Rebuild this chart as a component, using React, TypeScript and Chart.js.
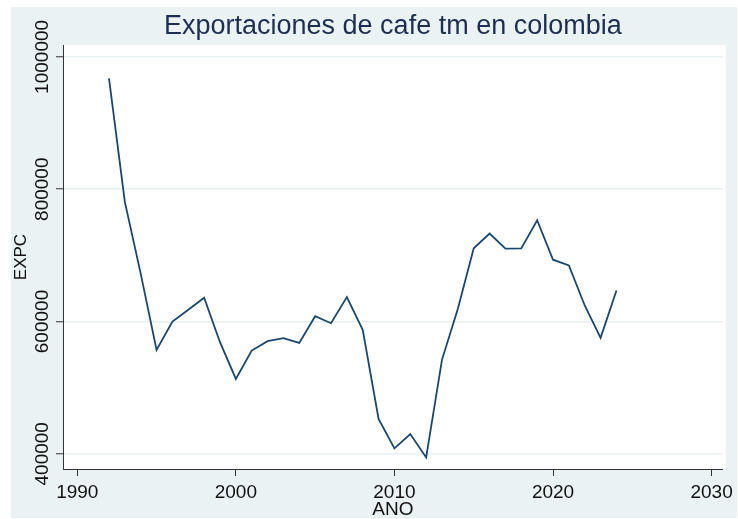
import React, { useEffect, useRef } from "react";
import { Chart, registerables } from "chart.js";

Chart.register(...registerables);

const years = [1992, 1993, 1994, 1995, 1996, 1997, 1998, 1999, 2000, 2001, 2002, 2003, 2004, 2005, 2006, 2007, 2008, 2009, 2010, 2011, 2012, 2013, 2014, 2015, 2016, 2017, 2018, 2019, 2020, 2021, 2022, 2023, 2024];
const expc = [967700, 780800, 672300, 557100, 600000, 617700, 635900, 568700, 513200, 556100, 570200, 574700, 567700, 608000, 597400, 636800, 587400, 452600, 408100, 429800, 394400, 542400, 619200, 710600, 732900, 710100, 710600, 753000, 693400, 684800, 624200, 575300, 646900];
const xTicks = [1990, 2000, 2010, 2020, 2030];
const yTicks = [400000, 600000, 800000, 1000000];

const FONT = "'Liberation Sans', Arial, sans-serif";

export default function App() {
  const ref = useRef<HTMLCanvasElement | null>(null);

  useEffect(() => {
    document.body.style.margin = "0";
    const canvas = ref.current;
    if (!canvas) return;

    const bgPlugin = {
      id: "bgPlugin",
      beforeDraw(chart: any) {
        const { ctx, chartArea } = chart;
        ctx.save();
        ctx.fillStyle = "#ffffff";
        ctx.fillRect(0, 0, chart.width, chart.height);
        ctx.fillStyle = "#eaf2f3";
        ctx.fillRect(11, 7, 726, 511);
        ctx.fillStyle = "#ffffff";
        ctx.fillRect(chartArea.left, chartArea.top, chartArea.right - chartArea.left + 3, chartArea.bottom - chartArea.top);
        ctx.restore();
      },
      afterDraw(chart: any) {
        const { ctx } = chart;
        const ys = chart.scales.y;
        ctx.save();
        ctx.fillStyle = "#111111";
        ctx.font = `19px ${FONT}`;
        ctx.textAlign = "center";
        ctx.textBaseline = "middle";
        ys.ticks.forEach((t: any) => {
          const py = ys.getPixelForValue(t.value);
          ctx.save();
          ctx.translate(43, py);
          ctx.rotate(-Math.PI / 2);
          ctx.fillText(String(t.value), 0, 0);
          ctx.restore();
        });
        ctx.restore();
      },
    };

    const chart = new Chart(canvas, {
      type: "line",
      data: {
        datasets: [
          {
            label: "EXPC",
            data: years.map((yr, i) => ({ x: yr, y: expc[i] })),
            borderColor: "#1a476f",
            borderWidth: 1.8,
            pointRadius: 0,
            tension: 0,
            fill: false,
          },
        ],
      },
      options: {
        animation: false,
        responsive: false,
        maintainAspectRatio: false,
        layout: { padding: { left: 0, right: 8, top: 0, bottom: 0 } },
        plugins: {
          legend: { display: false },
          tooltip: { enabled: false },
          title: {
            display: true,
            fullSize: false,
            text: "Exportaciones de cafe tm en colombia",
            color: "#1e2e50",
            font: { family: FONT, size: 27, weight: "normal" },
            padding: { top: 10, bottom: 2.6 },
          },
        },
        scales: {
          x: {
            type: "linear",
            min: 1989.1,
            max: 2030.7,
            afterBuildTicks: (s: any) => {
              s.ticks = xTicks.map((v) => ({ value: v }));
            },
            afterFit: (s: any) => {
              s.height = 50;
            },
            ticks: {
              color: "#111111",
              font: { family: FONT, size: 19 },
              padding: 5,
              maxRotation: 0,
              callback: (v: any) => String(v),
            },
            grid: {
              drawOnChartArea: false,
              drawTicks: true,
              tickLength: 7,
              tickColor: "#333333",
              tickWidth: 1,
            },
            border: { display: true, color: "#333333", width: 1 },
            title: {
              display: true,
              text: "ANO",
              color: "#111111",
              font: { family: FONT, size: 19, lineHeight: 1 },
              padding: { top: 0, bottom: 0 },
            },
          },
          y: {
            type: "linear",
            min: 377000,
            max: 1018000,
            afterBuildTicks: (s: any) => {
              s.ticks = yTicks.map((v) => ({ value: v }));
            },
            afterFit: (s: any) => {
              s.width = 63;
            },
            ticks: { display: false },
            grid: {
              drawOnChartArea: true,
              color: "#e8f0f1",
              lineWidth: 1.5,
              drawTicks: true,
              tickLength: 7,
              tickColor: "#333333",
              tickWidth: 1,
            },
            border: { display: true, color: "#333333", width: 1 },
            title: {
              display: true,
              text: "EXPC",
              color: "#111111",
              font: { family: FONT, size: 17 },
              padding: { top: 11, bottom: 0 },
            },
          },
        },
      },
      plugins: [bgPlugin],
    });

    return () => {
      chart.destroy();
    };
  }, []);

  return <canvas ref={ref} width={738} height={519} style={{ display: "block" }} />;
}
